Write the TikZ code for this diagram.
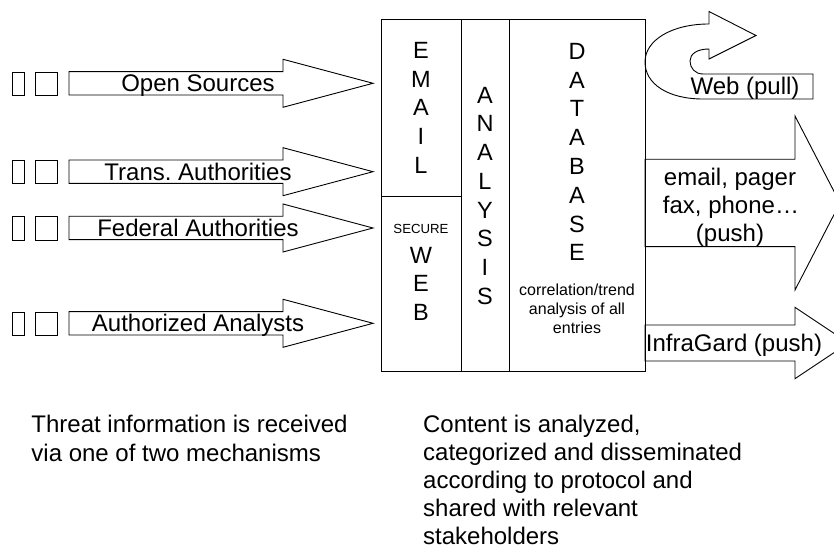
\documentclass[tikz,border=0pt]{standalone}
\usepackage{fontspec}
\setmainfont{Liberation Sans}
\frenchspacing
\begin{document}
\begin{tikzpicture}[x=1bp,y=-1bp,line width=0.9bp,
  lbl/.style={font=\fontsize{24bp}{28bp}\selectfont,inner sep=0pt,anchor=base},
  letter/.style={font=\fontsize{23.5bp}{28bp}\selectfont,inner sep=0pt,anchor=base},
  smalltxt/.style={font=\fontsize{16bp}{18.5bp}\selectfont,inner sep=0pt,anchor=base},
  tinytxt/.style={font=\fontsize{13.2bp}{15bp}\selectfont,inner sep=0pt,anchor=base},
  note/.style={font=\fontsize{24bp}{28bp}\selectfont,inner sep=0pt,anchor=base west},
  shp/.style={draw=black,fill=white,line join=miter},
  panel/.style={draw=black,inner sep=0pt,anchor=north west}]
\useasboundingbox (0,0) rectangle (834,548);
\clip (0,0) rectangle (834,548);

% ---------- incoming block arrows ----------
\foreach \yy/\t/\n in {83.3/Open Sources/os,171.7/Trans. Authorities/ta,228/Federal Authorities/fa,323.3/Authorized Analysts/aa}{
  \node[panel,minimum width=12bp,minimum height=23.4bp] (\n a) at (12.3,\yy-11.7) {};
  \node[panel,minimum width=22.3bp,minimum height=23.4bp] (\n b) at (35,\yy-11.7) {};
  \draw[shp] (69,\yy-11.7) -- (283,\yy-11.7) -- (283,\yy-24) -- (373,\yy)
     -- (283,\yy+24) -- (283,\yy+11.7) -- (69,\yy+11.7) -- cycle;
  \node[lbl] (\n) at (198,\yy+8.7) {\t};
}

% ---------- outgoing block arrows ----------
\draw[shp] (645,159.3) -- (795,159.3) -- (795,116) -- (840,203) -- (795,290)
   -- (795,246.7) -- (645,246.7) -- cycle;
\draw[shp] (645,325) -- (795,325) -- (795,307.3) -- (848.5,343) -- (795,378.7)
   -- (795,361) -- (645,361) -- cycle;

% ---------- U-turn arrow with Web (pull) ----------
\draw[shp] (703,74) -- (813,74) -- (813,99) -- (703,99)
   .. controls (668,99) and (645,84) .. (645,62)
   .. controls (645,40) and (672,24) .. (709,24)
   -- (709,11.5) -- (756,35.5) -- (709,59) -- (709,49)
   .. controls (697,49) and (690,54) .. (690,61)
   .. controls (690,68) and (695,74) .. (703,74) -- cycle;
\node[lbl] (web) at (745,95) {Web (pull)};

% ---------- central panels ----------
\node[panel,minimum width=80bp,minimum height=177bp] (email) at (381,19) {};
\node[panel,minimum width=80bp,minimum height=175bp] (secweb) at (381,196) {};
\node[panel,minimum width=48bp,minimum height=352bp] (analysis) at (461,19) {};
\node[panel,minimum width=136bp,minimum height=352bp] (database) at (509,19) {};

\foreach \L [count=\i] in {E,M,A,I,L}
  \node[letter] (em\i) at (421,58.5+28.75*\i-28.75) {\L};
\foreach \L [count=\i] in {A,N,A,L,Y,S,I,S}
  \node[letter] (an\i) at (485,103.3+28.7*\i-28.7) {\L};
\foreach \L [count=\i] in {D,A,T,A,B,A,S,E}
  \node[letter] (db\i) at (577,59.3+28.8*\i-28.8) {\L};
\node[tinytxt] (secure) at (421,233.3) {SECURE};
\foreach \L [count=\i] in {W,E,B}
  \node[letter] (wb\i) at (421,263.3+28.4*\i-28.4) {\L};

\node[smalltxt] (cor1) at (577,296) {correlation/trend};
\node[smalltxt] (cor2) at (577,314.6) {analysis of all};
\node[smalltxt] (cor3) at (577,333.2) {entries};

% ---------- push labels ----------
\node[lbl] (push1) at (730,186) {email, pager};
\node[lbl] (push2) at (731,214) {fax, phone…};
\node[lbl] (push3) at (730,242) {(push)};
\node[lbl] (infra) at (734,351.7) {InfraGard (push)};

% ---------- notes ----------
\node[note] (n1) at (31,432) {Threat information is received};
\node[note] (n2) at (31,461) {via one of two mechanisms};
\node[note] (m1) at (422.7,432.3) {Content is analyzed,};
\node[note] (m2) at (422.7,460.7) {categorized and disseminated};
\node[note] (m3) at (422.7,488.5) {according to protocol and};
\node[note] (m4) at (422.7,516.7) {shared with relevant};
\node[note] (m5) at (422.7,544.5) {stakeholders};
\end{tikzpicture}
\end{document}
